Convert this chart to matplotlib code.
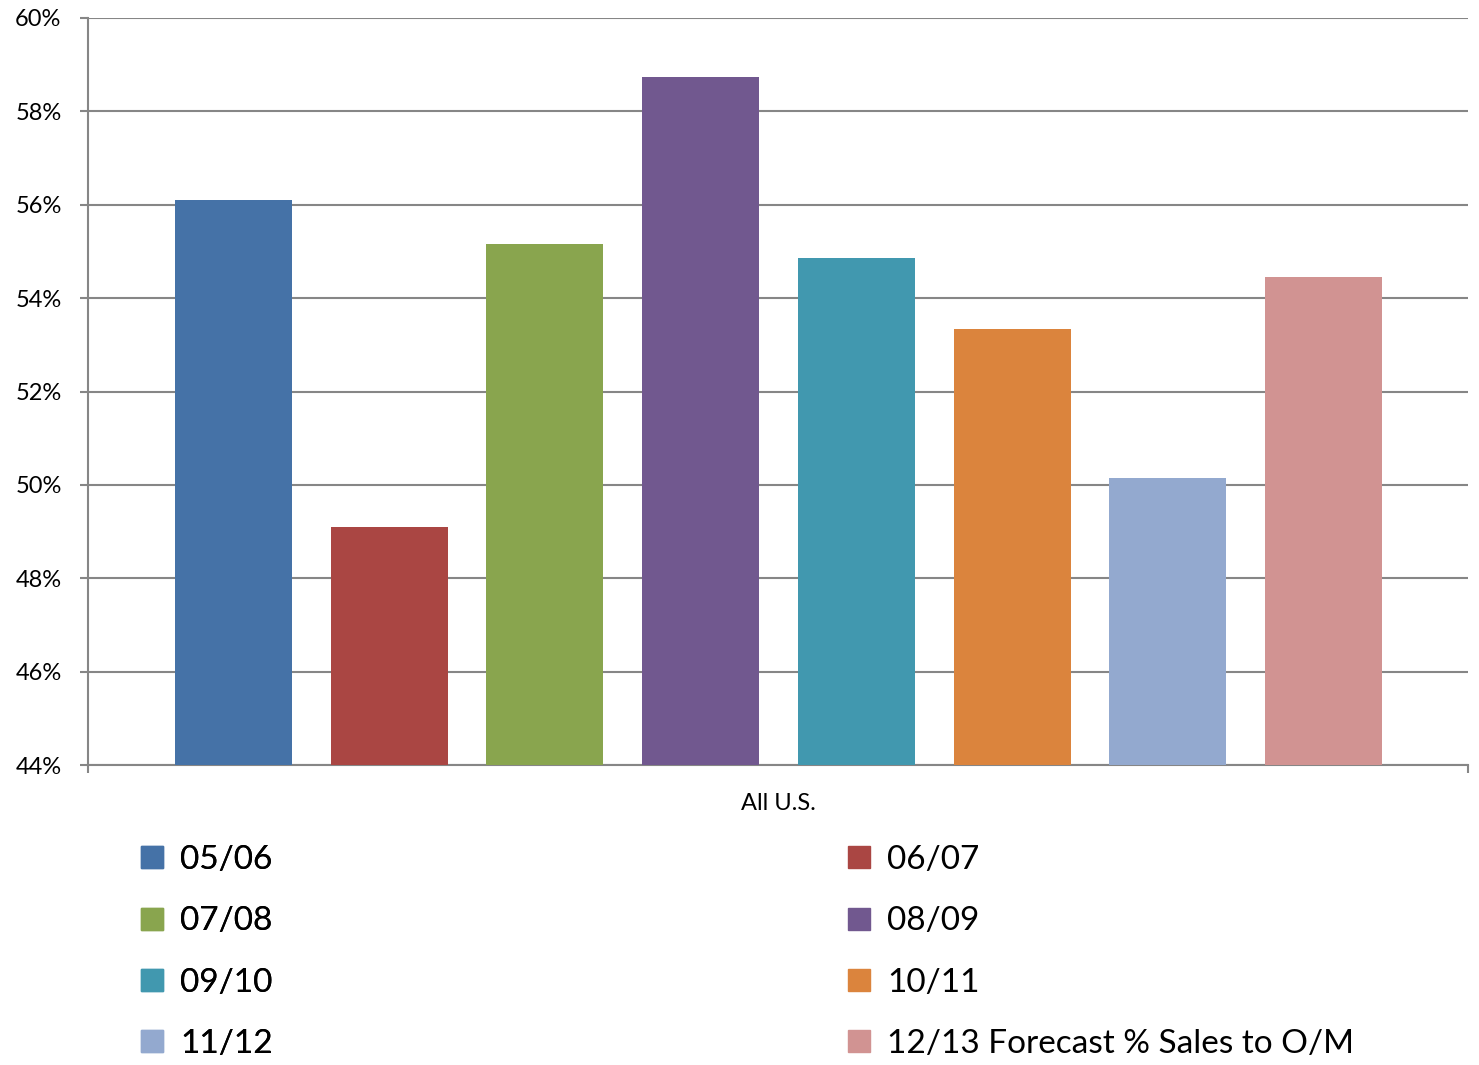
import matplotlib.pyplot as plt
import numpy as np
from matplotlib.patches import Patch

# data
seasons = ['05/06', '06/07', '07/08', '08/09', '09/10', '10/11', '11/12',
           '12/13 Forecast % Sales to O/M']
values = [56.1, 49.1, 55.16, 58.74, 54.86, 53.34, 50.15, 54.45]
colors = ['#4572A7', '#AA4643', '#89A54E', '#71588F', '#4198AF', '#DB843D',
          '#93A9CF', '#D19392']
category = 'All U.S.'
yticks = [44, 46, 48, 50, 52, 54, 56, 58, 60]

plt.rcParams['font.family'] = ['Lato', 'DejaVu Sans']
grey = '#868686'

fig = plt.figure(figsize=(14.79, 10.65), dpi=100)
ax = fig.add_axes([88/1479, 1-765/1065, 1380/1479, 747/1065])

x = np.arange(len(values))
bars = ax.bar(x, np.array(values) - 44, bottom=44, width=0.751, color=colors,
              zorder=3)

xl = (-0.934, 7.928)
ax.set_ylim(44, 60)
ax.set_xlim(*xl)
ax.set_yticks(yticks)
ax.set_yticklabels(['%d%%' % v for v in yticks], fontsize=17)
ax.yaxis.grid(True, color=grey, linewidth=1.5, zorder=0)
ax.tick_params(axis='y', direction='out', length=6, width=1.5, color=grey,
               pad=13)

# category label in the middle, end ticks on the x axis
ax.set_xticks([3.5])
ax.set_xticklabels([category], fontsize=17)
ax.tick_params(axis='x', which='major', length=0, pad=20)
ax.set_xticks(list(xl), minor=True)
ax.tick_params(axis='x', which='minor', direction='out', length=6, width=1.5,
               color=grey)

for s in ['top', 'right']:
    ax.spines[s].set_visible(False)
for s in ['left', 'bottom']:
    ax.spines[s].set_color(grey)
    ax.spines[s].set_linewidth(1.5)

# legend: two columns, row-major order
handles = [Patch(color=c, label=l) for c, l in zip(colors, seasons)]
for col, x0 in [(0, 141), (1, 848)]:
    idx = list(range(col, len(seasons), 2))
    leg = fig.legend([handles[i] for i in idx], [seasons[i] for i in idx],
                     loc='upper left', bbox_to_anchor=(x0/1479, 1-845/1065),
                     frameon=False, fontsize=24, handlelength=0.65,
                     handleheight=0.65, handletextpad=0.52, labelspacing=0.94,
                     borderpad=0, borderaxespad=0)
    if col == 0:
        fig.add_artist(leg)

plt.savefig('out.png')
